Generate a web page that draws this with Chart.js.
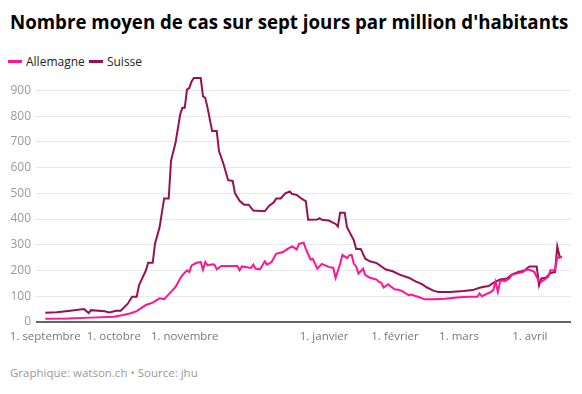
<!DOCTYPE html>
<html>
<head>
<meta charset="utf-8">
<script src="https://cdn.jsdelivr.net/npm/chart.js"></script>
<style>
  body { margin: 0; width: 582px; height: 394px; background: #fff; font-family: 'Open Sans', sans-serif; position: relative; overflow: hidden; }
  h1 { position: absolute; left: 10px; top: 9px; margin: 0; font-size: 18.7px; font-weight: 700; color: #000; white-space: nowrap; }
  .legend { position: absolute; left: 8px; top: 53px; font-size: 12px; color: #222; }
  .legend span { display: inline-block; margin-right: 1px; }
  .legend i { display: inline-block; width: 14px; height: 3px; vertical-align: middle; margin-right: 4px; position: relative; top: -1px; }
  .chart-box { position: absolute; left: 0; top: 64px; width: 582px; height: 286px; }
  .footer { position: absolute; left: 10px; top: 365px; font-size: 11.5px; color: #999; }
</style>
</head>
<body>
<h1>Nombre moyen de cas sur sept jours par million d'habitants</h1>
<div class="legend">
  <span><i style="background:#ff1493"></i>Allemagne</span>
  <span><i style="background:#990f55"></i>Suisse</span>
</div>
<div class="chart-box"><canvas id="chartCanvas"></canvas></div>
<div class="footer">Graphique: watson.ch • Source: jhu</div>
<script>
// days counted from 1 September
const tickDays = [0, 30, 61, 122, 153, 181, 212];
const tickLabels = ['1. septembre', '1. octobre', '1. novembre', '1. janvier', '1. février', '1. mars', '1. avril'];

const germanyDays = [0, 10, 20, 30, 34, 37, 40, 44, 47, 50, 52, 55, 57, 59, 60, 62, 63, 64, 66, 68, 69, 70, 71, 73, 74, 75, 77, 84, 85, 86, 90, 91, 92, 94, 96, 97, 99, 101, 104, 106, 108, 110, 111, 113, 114, 116, 117, 119, 121, 124, 126, 127, 129, 130, 132, 133, 134, 135, 136, 137, 139, 140, 142, 145, 146, 147, 148, 150, 151, 153, 154, 156, 159, 160, 163, 166, 170, 175, 180, 185, 189, 190, 191, 195, 196, 197, 198, 199, 200, 201, 203, 204, 206, 209, 210, 212, 214, 215, 216, 217, 220, 221, 223, 224, 225, 226];
const germanyValues = [13, 14, 17, 20, 27, 33, 42, 66, 75, 92, 89, 117, 136, 169, 182, 201, 194, 220, 229, 233, 203, 233, 220, 224, 223, 205, 218, 218, 201, 216, 210, 223, 207, 205, 236, 223, 233, 265, 272, 284, 294, 282, 304, 308, 284, 243, 246, 207, 226, 214, 210, 171, 226, 261, 248, 259, 261, 226, 216, 188, 207, 182, 172, 165, 156, 152, 134, 147, 139, 126, 126, 121, 104, 107, 98, 88, 88, 90, 95, 98, 98, 111, 100, 117, 124, 156, 117, 158, 162, 159, 169, 182, 188, 194, 203, 203, 194, 175, 159, 156, 175, 201, 201, 252, 249, 255];

const swissDays = [0, 5, 10, 17, 19, 20, 26, 28, 31, 33, 36, 38, 40, 41, 44, 45, 47, 48, 50, 52, 54, 55, 57, 59, 60, 61, 62, 63, 64, 65, 68, 69, 70, 71, 73, 75, 76, 78, 80, 82, 83, 85, 87, 89, 91, 96, 98, 100, 101, 103, 105, 107, 108, 110, 112, 114, 115, 119, 120, 121, 124, 127, 128, 129, 131, 132, 135, 136, 138, 140, 142, 145, 149, 152, 155, 159, 162, 165, 167, 170, 172, 177, 183, 187, 190, 192, 194, 196, 199, 202, 204, 207, 210, 211, 212, 215, 216, 217, 219, 221, 223, 224, 225, 226];
const swissValues = [36, 38, 43, 50, 35, 46, 42, 37, 44, 44, 70, 98, 98, 143, 200, 230, 230, 304, 368, 480, 480, 626, 697, 806, 832, 832, 903, 909, 935, 948, 948, 877, 870, 832, 742, 742, 664, 613, 551, 548, 500, 471, 456, 456, 433, 430, 452, 465, 480, 480, 500, 507, 497, 494, 480, 469, 397, 398, 403, 397, 394, 381, 371, 424, 424, 368, 317, 284, 284, 246, 236, 229, 204, 197, 184, 172, 158, 146, 134, 121, 117, 117, 120, 124, 133, 137, 140, 152, 165, 169, 184, 194, 201, 211, 216, 216, 143, 169, 172, 190, 194, 294, 255, 252];

const toPoints = (days, values) => days.map((d, i) => ({ x: d, y: values[i] }));

const ctx = document.getElementById('chartCanvas').getContext('2d');

new Chart(ctx, {
  type: 'line',
  data: {
    datasets: [
      {
        label: 'Allemagne',
        data: toPoints(germanyDays, germanyValues),
        borderColor: '#ff1493',
        borderWidth: 2,
        pointRadius: 0,
        tension: 0
      },
      {
        label: 'Suisse',
        data: toPoints(swissDays, swissValues),
        borderColor: '#990f55',
        borderWidth: 2,
        pointRadius: 0,
        tension: 0
      }
    ]
  },
  options: {
    responsive: true,
    maintainAspectRatio: false,
    animation: false,
    layout: { padding: { top: 5, right: 11, left: 0, bottom: 0 } },
    plugins: {
      legend: { display: false },
      tooltip: { enabled: false }
    },
    scales: {
      x: {
        type: 'linear',
        min: -1,
        max: 230,
        border: { display: false },
        grid: { display: false },
        afterBuildTicks: axis => {
          axis.ticks = tickDays.map(v => ({ value: v }));
        },
        afterFit: scale => { scale.height = 28; },
        ticks: {
          autoSkip: false,
          maxRotation: 0,
          padding: 0,
          color: '#777',
          font: { family: 'Open Sans', size: 11.5 },
          callback: value => tickLabels[tickDays.indexOf(value)]
        }
      },
      y: {
        min: 0,
        max: 955,
        border: { display: false },
        afterFit: scale => { scale.width = 43; },
        afterBuildTicks: axis => {
          axis.ticks = axis.ticks.filter(t => t.value % 100 === 0);
        },
        grid: {
          tickLength: 7,
          color: c => c.tick && c.tick.value === 0 ? '#666' : '#e8e8e8',
          tickColor: c => c.tick && c.tick.value === 0 ? '#666' : '#e8e8e8',
          lineWidth: c => c.tick && c.tick.value === 0 ? 2 : 1
        },
        ticks: {
          stepSize: 100,
          padding: 5,
          color: '#999',
          font: { family: 'Open Sans', size: 12 }
        }
      }
    }
  }
});
</script>
</body>
</html>
